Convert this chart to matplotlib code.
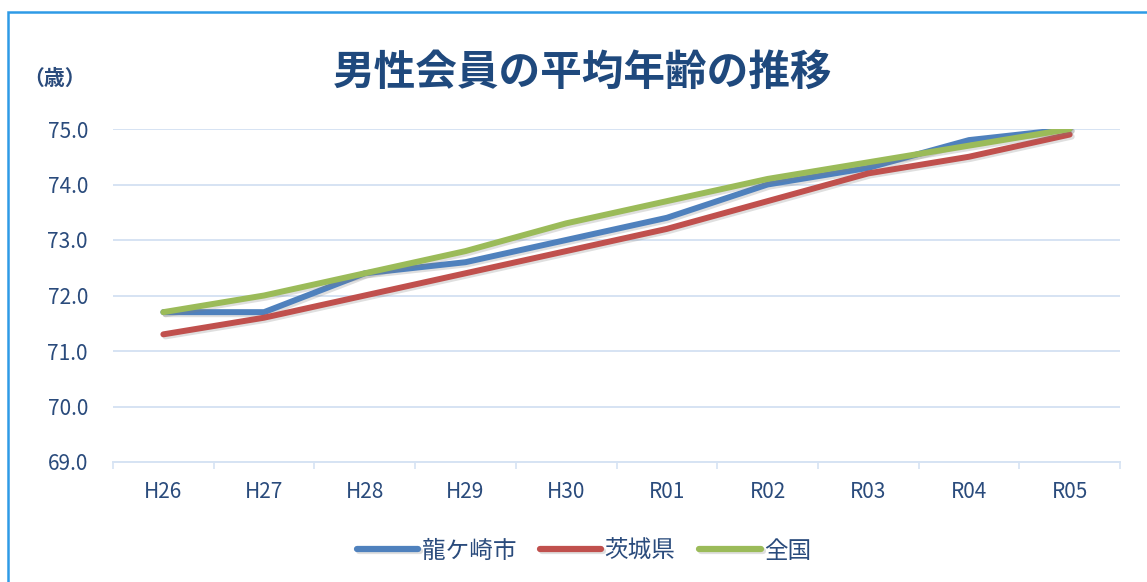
import matplotlib.pyplot as plt
import matplotlib.patheffects as pe
from matplotlib.patches import Rectangle

plt.rcParams['font.family'] = ['Noto Sans CJK JP', 'DejaVu Sans']

years = ['H26', 'H27', 'H28', 'H29', 'H30', 'R01', 'R02', 'R03', 'R04', 'R05']
ryugasaki = [71.7, 71.7, 72.4, 72.6, 73.0, 73.4, 74.0, 74.3, 74.8, 75.0]
ibaraki = [71.3, 71.6, 72.0, 72.4, 72.8, 73.2, 73.7, 74.2, 74.5, 74.9]
zenkoku = [71.7, 72.0, 72.4, 72.8, 73.3, 73.7, 74.1, 74.4, 74.7, 75.0]
series_names = ['龍ケ崎市', '茨城県', '全国']

text_color = '#2A4B7C'
grid_color = '#D6E3F3'

fig = plt.figure(figsize=(11.47, 5.82), dpi=100)
ax = fig.add_axes([113/1147, 1-462/582, (1120-113)/1147, (462-129)/582])

x = list(range(len(years)))
shadow = [pe.SimpleLineShadow(offset=(1.5, -1.5), alpha=0.25, shadow_color='gray'), pe.Normal()]
ax.plot(x, ryugasaki, color='#4F81BD', lw=4.3, label=series_names[0], path_effects=shadow, solid_capstyle='round')
ax.plot(x, ibaraki, color='#C0504D', lw=4.3, label=series_names[1], path_effects=shadow, solid_capstyle='round')
ax.plot(x, zenkoku, color='#9BBB59', lw=4.3, label=series_names[2], path_effects=shadow, solid_capstyle='round')

ax.set_xlim(-0.5, len(years) - 0.5)
ax.set_ylim(69, 75)
ax.set_yticks([69, 70, 71, 72, 73, 74, 75])
ax.set_yticklabels(['%.1f' % v for v in [69, 70, 71, 72, 73, 74, 75]])
ax.set_xticks(x)
ax.set_xticklabels(years)
ax.set_xticks([i - 0.5 for i in range(len(years) + 1)], minor=True)
ax.tick_params(axis='x', which='major', length=0, pad=14, labelsize=15, labelcolor=text_color)
ax.tick_params(axis='x', which='minor', length=5, color=grid_color, width=1.2)
ax.tick_params(axis='y', length=0, pad=18, labelsize=15, labelcolor=text_color)
ax.grid(axis='y', color=grid_color, lw=1.4)
ax.set_axisbelow(True)
for s in ['top', 'right', 'left']:
    ax.spines[s].set_visible(False)
ax.spines['bottom'].set_color(grid_color)
ax.spines['bottom'].set_linewidth(1.4)

fig.text(583/1147, 1-73/582, '男性会員の平均年齢の推移', ha='center', va='center',
         fontsize=30, fontweight='bold', color='#1F497D')
fig.text(55/1147, 1-78/582, '（歳）', ha='center', va='center',
         fontsize=15, fontweight='bold', color=text_color)

leg = fig.legend(loc='center', bbox_to_anchor=(584/1147, 1-551/582), ncol=3, frameon=False,
                 fontsize=17, handlelength=2.6, handletextpad=0.15, columnspacing=1.0)
for t in leg.get_texts():
    t.set_color(text_color)
for h in leg.get_lines():
    h.set_linewidth(4.5)
    h.set_solid_capstyle('round')

fig.patches.append(Rectangle((8/1147, -0.02), 1.2, 1-12/582 + 0.02, transform=fig.transFigure,
                             fill=False, edgecolor='#2E9BE6', lw=1.8))

fig.savefig('out.png', dpi=100)
